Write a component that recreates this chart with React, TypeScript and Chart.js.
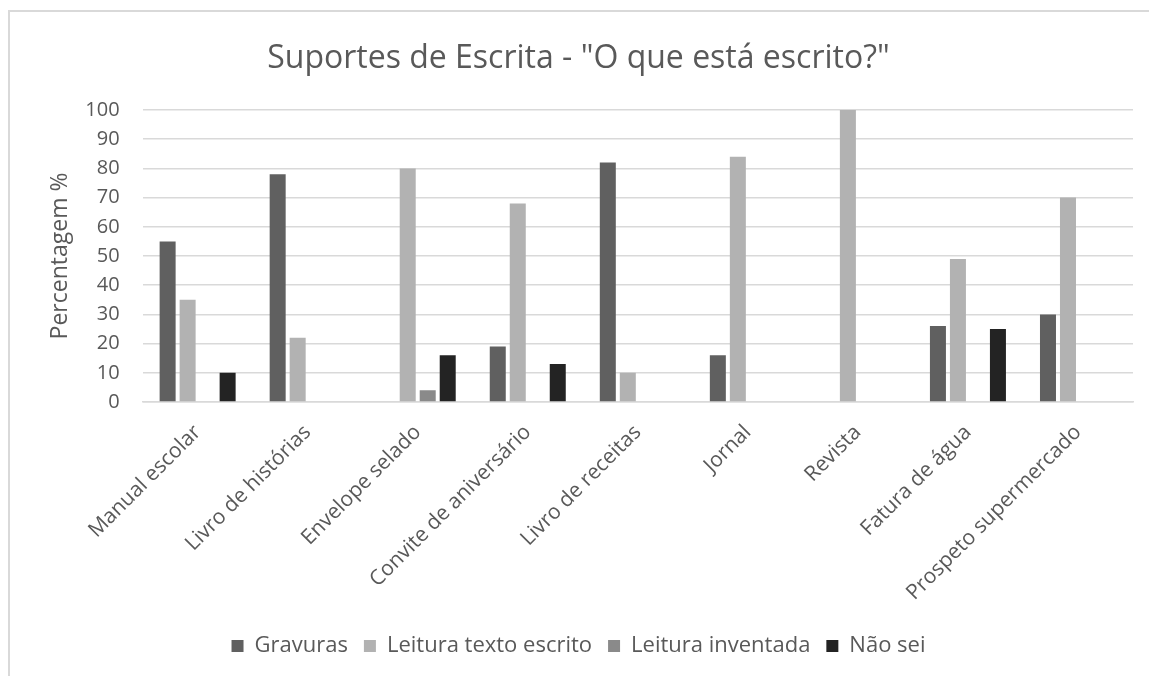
import React, { useEffect, useRef } from "react";
import { Chart, registerables } from "chart.js";

Chart.register(...registerables);

const categories = [
  "Manual escolar",
  "Livro de histórias",
  "Envelope selado",
  "Convite de aniversário",
  "Livro de receitas",
  "Jornal",
  "Revista",
  "Fatura de água",
  "Prospeto supermercado",
];
const gravuras = [55, 78, 0, 19, 82, 16, 0, 26, 30];
const leituraTexto = [35, 22, 80, 68, 10, 84, 100, 49, 70];
const leituraInventada = [0, 0, 4, 0, 0, 0, 0, 0, 0];
const naoSei = [10, 0, 16, 13, 0, 0, 0, 25, 0];
const yTicks = [0, 10, 20, 30, 40, 50, 60, 70, 80, 90, 100];

const FONT = "'Open Sans', sans-serif";
const TEXT = "#595959";

export default function App() {
  const ref = useRef<HTMLCanvasElement | null>(null);
  useEffect(() => {
    if (!ref.current) return;
    const chart = new Chart(ref.current, {
      type: "bar",
      data: {
        labels: categories,
        datasets: [
          { label: "Gravuras", data: gravuras, backgroundColor: "#606060" },
          { label: "Leitura texto escrito", data: leituraTexto, backgroundColor: "#b2b2b2" },
          { label: "Leitura inventada", data: leituraInventada, backgroundColor: "#8a8a8a" },
          { label: "Não sei", data: naoSei, backgroundColor: "#232323" },
        ],
      },
      options: {
        responsive: false,
        animation: false,
        layout: { padding: { left: 24, right: 16, top: 40, bottom: 9 } },
        datasets: { bar: { categoryPercentage: 0.727, barPercentage: 0.8 } },
        plugins: {
          tooltip: { enabled: false },
          title: {
            display: true,
            text: 'Suportes de Escrita - "O que está escrito?"',
            color: TEXT,
            font: { family: FONT, size: 32, weight: "normal" },
            padding: { top: 0, bottom: 31.6 },
          },
          legend: {
            position: "bottom",
            labels: {
              color: TEXT,
              font: { family: FONT, size: 22 },
              boxWidth: 12,
              boxHeight: 12,
              padding: 16,
            },
          },
        },
        scales: {
          x: {
            grid: { display: false, drawTicks: false },
            border: { display: true, color: "#d9d9d9", width: 1.5 },
            ticks: {
              color: TEXT,
              font: { family: FONT, size: 21 },
              maxRotation: 45,
              minRotation: 45,
              autoSkip: false,
              padding: 18,
            },
            afterFit: (s: any) => {
              s.height = 217;
            },
          },
          y: {
            min: 0,
            max: 100,
            afterBuildTicks: (s: any) => {
              s.ticks = yTicks.map((v) => ({ value: v }));
            },
            grid: { color: "#d9d9d9", lineWidth: 1.5, drawTicks: false },
            border: { display: false },
            ticks: {
              color: TEXT,
              font: { family: FONT, size: 20 },
              padding: 23,
              crossAlign: "near",
            },
            title: {
              display: true,
              text: "Percentagem %",
              color: TEXT,
              font: { family: FONT, size: 23, lineHeight: 0.2 },
              padding: { top: 33.7, bottom: 0 },
            },
          },
        },
      },
    });
    return () => chart.destroy();
  }, []);

  return (
    <>
      <div
        style={{
          position: "fixed",
          left: 8,
          top: 10,
          width: 1300,
          height: 800,
          border: "2px solid #d9d9d9",
          boxSizing: "border-box",
          background: "#fff",
        }}
      />
      <div style={{ position: "fixed", left: 0, top: 0, width: 1149, height: 676 }}>
        <canvas ref={ref} width={1149} height={676} style={{ width: 1149, height: 676 }} />
      </div>
    </>
  );
}
